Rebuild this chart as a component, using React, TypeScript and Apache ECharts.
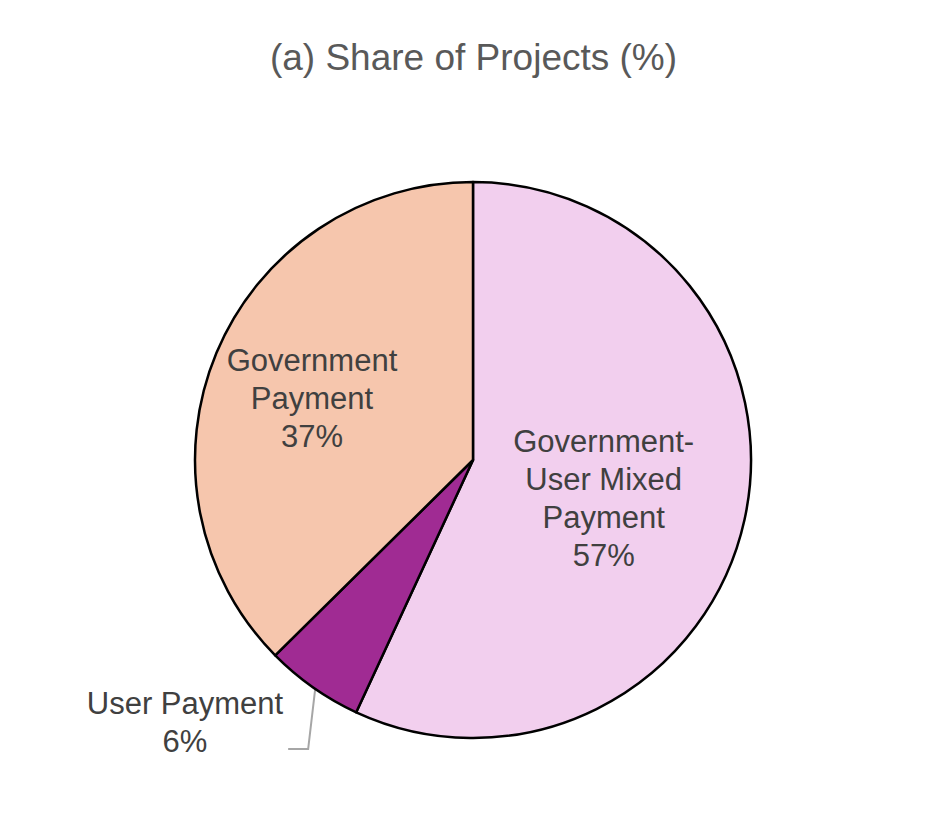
import * as echarts from 'echarts';
import { useEffect, useRef } from 'react';

const title = '(a) Share of Projects (%)';
const categories = ['Government-\nUser Mixed\nPayment', 'User Payment', 'Government\nPayment'];
const shares = [56.9, 5.7, 37.4];
const colors = ['#F2CFEE', '#A02B93', '#F6C6AD'];

export default function App() {
    const chartRef = useRef<HTMLDivElement>(null);

    useEffect(() => {
        document.body.style.margin = '0';
        const chart = echarts.init(chartRef.current, null, { renderer: 'svg' });

        const option = {
            animation: false,
            backgroundColor: '#ffffff',
            textStyle: { fontFamily: 'Liberation Sans, Arial, sans-serif' },
            title: {
                text: title,
                left: 'center',
                top: 34,
                textStyle: {
                    color: '#595959',
                    fontSize: 37,
                    fontWeight: 'normal',
                    fontFamily: 'Liberation Sans, Arial, sans-serif',
                },
            },
            series: [
                {
                    type: 'pie',
                    center: [473, 460],
                    radius: 278,
                    startAngle: 90,
                    clockwise: true,
                    avoidLabelOverlap: false,
                    itemStyle: {
                        borderColor: '#000000',
                        borderWidth: 2.5,
                    },
                    label: {
                        show: true,
                        position: 'inside',
                        formatter: (p: any) => `${p.name}\n${Math.round(p.value)}%`,
                        color: '#404040',
                        fontSize: 31,
                        lineHeight: 38,
                        align: 'center',
                        fontFamily: 'Liberation Sans, Arial, sans-serif',
                    },
                    labelLine: { show: false },
                    labelLayout: (params: any) => {
                        if (params.dataIndex === 1) {
                            const p0 = params.labelLinePoints ? params.labelLinePoints[0] : [312, 686];
                            return {
                                x: 185,
                                y: 722,
                                align: 'center',
                                verticalAlign: 'middle',
                                labelLinePoints: [
                                    [p0[0] + 2, p0[1] + 2],
                                    [p0[0] - 5, 749],
                                    [p0[0] - 25, 749],
                                ],
                            };
                        }
                        if (params.dataIndex === 2) {
                            return { dx: -30, dy: -7 };
                        }
                        return { dx: -8, dy: 8 };
                    },
                    data: categories.map((name, i) => ({
                        name,
                        value: shares[i],
                        itemStyle: { color: colors[i] },
                        ...(i === 1
                            ? {
                                  label: { position: 'outside' },
                                  labelLine: {
                                      show: true,
                                      length: 40,
                                      length2: 20,
                                      lineStyle: { color: '#A6A6A6', width: 2 },
                                  },
                              }
                            : {}),
                    })),
                },
            ],
        };

        chart.setOption(option);
        return () => {
            chart.dispose();
        };
    }, []);

    return <div ref={chartRef} style={{ width: 947, height: 835 }} />;
}
